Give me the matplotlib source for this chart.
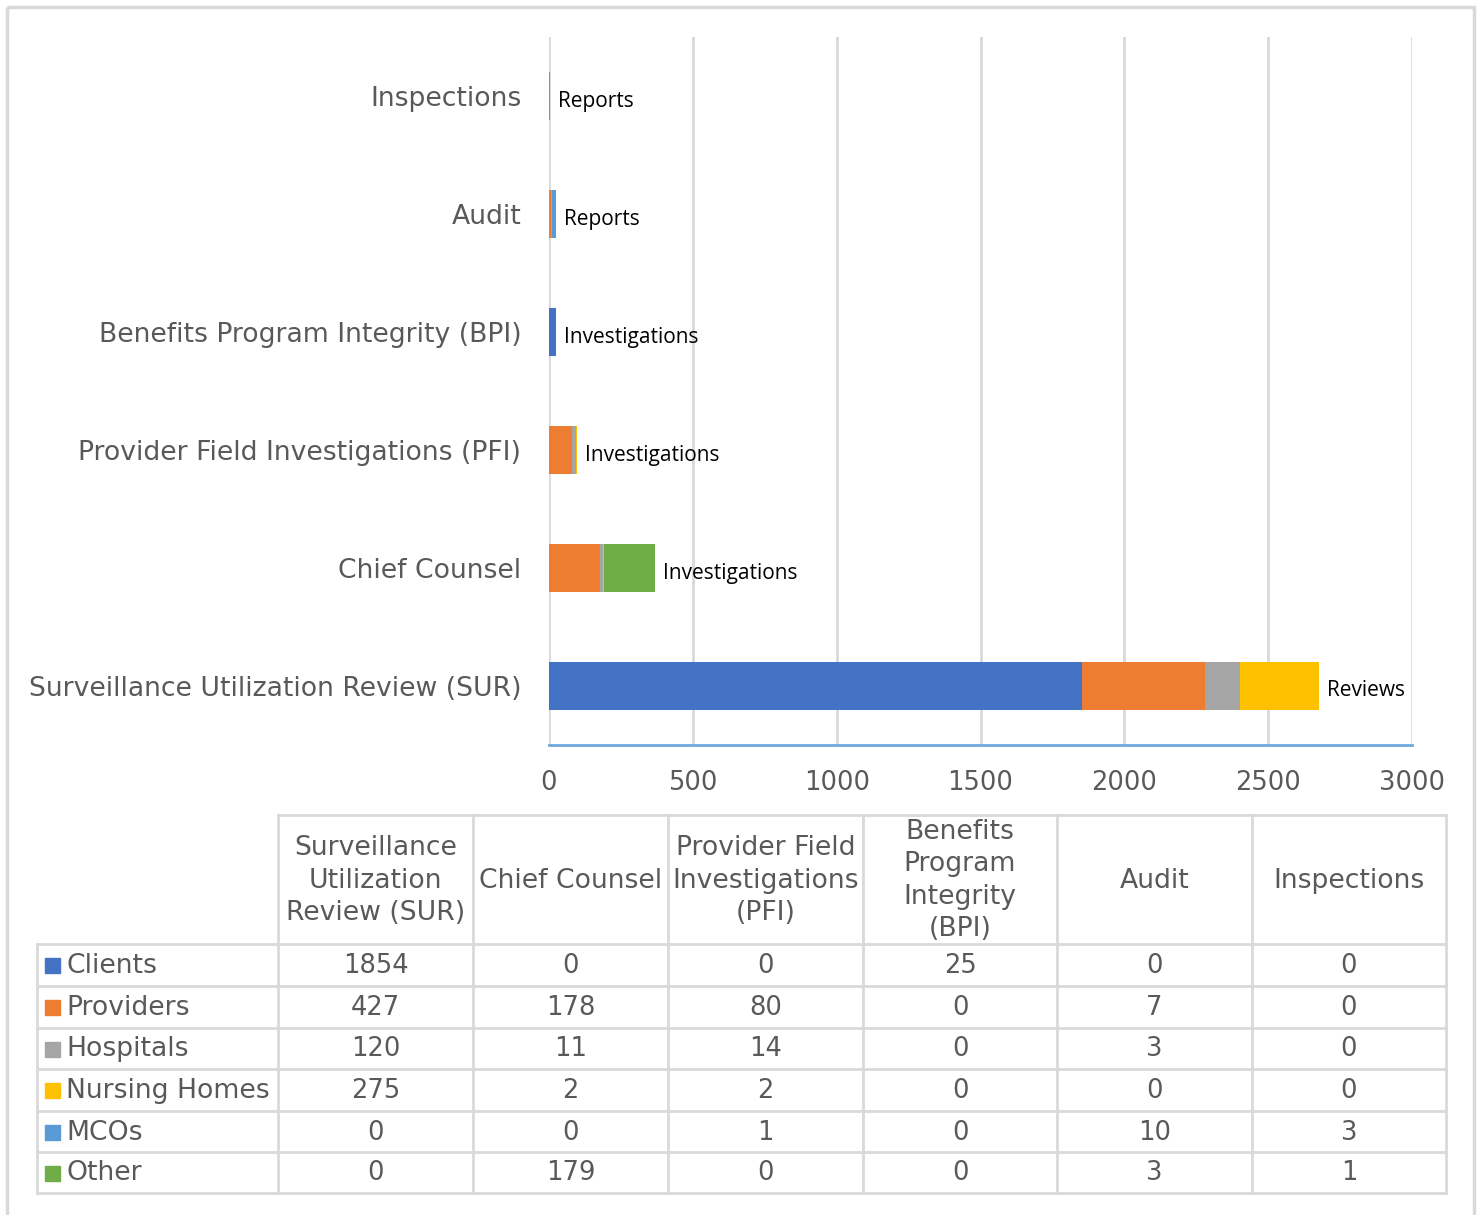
import numpy as np
import matplotlib
matplotlib.use('Agg')
import matplotlib.pyplot as plt
from matplotlib.patches import Rectangle

# --- data ---
units = ['Surveillance Utilization Review (SUR)', 'Chief Counsel',
         'Provider Field Investigations (PFI)', 'Benefits Program Integrity (BPI)',
         'Audit', 'Inspections']
headers = ['Surveillance\nUtilization\nReview (SUR)', 'Chief Counsel',
           'Provider Field\nInvestigations\n(PFI)', 'Benefits\nProgram\nIntegrity\n(BPI)',
           'Audit', 'Inspections']
bar_labels = ['Reviews', 'Investigations', 'Investigations', 'Investigations',
              'Reports', 'Reports']
series = ['Clients', 'Providers', 'Hospitals', 'Nursing Homes', 'MCOs', 'Other']
clients = [1854, 0, 0, 25, 0, 0]
providers = [427, 178, 80, 0, 7, 0]
hospitals = [120, 11, 14, 0, 3, 0]
nursing_homes = [275, 2, 2, 0, 0, 0]
mcos = [0, 0, 1, 0, 10, 3]
other = [0, 179, 0, 0, 3, 1]
values = [clients, providers, hospitals, nursing_homes, mcos, other]
colors = ['#4472C4', '#ED7D31', '#A5A5A5', '#FFC000', '#5B9BD5', '#70AD47']

TXT = '#595959'
GRID = '#D9D9D9'
FS = 18.5      # numbers
FS_T = 19.2    # words
W, H = 1481, 1215

plt.rcParams['font.family'] = 'DejaVu Sans'
fig = plt.figure(figsize=(W / 100, H / 100), dpi=100)

# --- bar chart ---
ax = fig.add_axes([549 / W, 1 - 745 / H, (1412 - 549) / W, (745 - 37) / H])
y = np.arange(len(units))
left = np.zeros(len(units))
for vals, col in zip(values, colors):
    ax.barh(y, vals, left=left, height=0.4, color=col, zorder=3)
    left += np.array(vals)
for yi, tot, lab in zip(y, left, bar_labels):
    ax.annotate(lab, (tot, yi), xytext=(8, -5), textcoords='offset pixels',
                va='center', ha='left', fontsize=15, family='Open Sans',
                color='black')

ax.set_xlim(0, 3000)
ax.set_ylim(-0.5, len(units) - 0.5)
ax.set_xticks(np.arange(0, 3001, 500))
ax.set_yticks(y)
ax.set_yticklabels(units, fontsize=FS_T)
ax.tick_params(axis='both', length=0, labelcolor=TXT)
ax.tick_params(axis='x', pad=18, labelsize=FS)
ax.tick_params(axis='y', pad=20)
ax.grid(axis='x', color=GRID, linewidth=2, zorder=0)
for s in ['top', 'right', 'left']:
    ax.spines[s].set_visible(False)
ax.spines['bottom'].set_color('#6FA8DC')
ax.spines['bottom'].set_linewidth(2)

# --- data table (pixel coordinates) ---
tb = fig.add_axes([0, 0, 1, 1], zorder=-1)
tb.set_xlim(0, W)
tb.set_ylim(H, 0)
tb.axis('off')

tb.add_patch(Rectangle((7, 7), 1467, 1215, fill=False, edgecolor=GRID, lw=2.5))

col_x = [37, 278, 473, 668, 863, 1057, 1252, 1446]
row_y = [815, 944, 986, 1028, 1069, 1111, 1152, 1193]
lc = dict(color=GRID, lw=2)
tb.plot([col_x[1], col_x[-1]], [row_y[0], row_y[0]], **lc)
for x in col_x[1:]:
    tb.plot([x, x], [row_y[0], row_y[-1]], **lc)
tb.plot([col_x[0], col_x[0]], [row_y[1], row_y[-1]], **lc)
for yy in row_y[1:]:
    tb.plot([col_x[0], col_x[-1]], [yy, yy], **lc)

for j, h in enumerate(headers):
    cx = (col_x[j + 1] + col_x[j + 2]) / 2
    tb.text(cx, (row_y[0] + row_y[1]) / 2 + 1, h, ha='center', va='center',
            fontsize=FS_T, color=TXT, linespacing=1.31)

for i, (name, vals, col) in enumerate(zip(series, values, colors)):
    cy = (row_y[i + 1] + row_y[i + 2]) / 2
    tb.add_patch(Rectangle((45, cy - 7), 15, 15, color=col))
    tb.text(66, cy + 1, name, ha='left', va='center', fontsize=FS_T, color=TXT)
    for j, v in enumerate(vals):
        cx = (col_x[j + 1] + col_x[j + 2]) / 2
        tb.text(cx, cy + 1, str(v), ha='center', va='center', fontsize=FS, color=TXT)

fig.savefig('out.png', dpi=100)
